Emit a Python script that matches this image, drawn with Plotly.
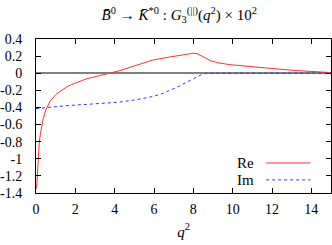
import plotly.graph_objects as go

q2_re = [0.03, 0.07, 0.12, 0.17, 0.23, 0.29, 0.37, 0.5, 0.71, 1.0, 1.56, 2.0, 2.58, 3.2, 3.76,
         4.27, 5.0, 5.96, 6.8, 7.66, 8.0, 8.2, 8.42, 8.65, 8.85, 9.3, 9.86, 10.7, 11.56, 12.4,
         13.25, 14.1, 15.0]
re_vals = [-1.35, -1.19, -0.95, -0.8, -0.7, -0.63, -0.53, -0.43, -0.33, -0.25, -0.16, -0.115,
           -0.065, -0.03, 0.0, 0.031, 0.085, 0.155, 0.19, 0.225, 0.233, 0.228, 0.206, 0.175,
           0.148, 0.12, 0.10, 0.08, 0.063, 0.047, 0.031, 0.018, 0.007]

q2_im = [0, 0.7, 1.5, 2.58, 3.4, 4.27, 5.1, 5.96, 6.4, 6.81, 7.25, 7.66, 7.9, 8.17, 8.4, 8.64,
         10, 12, 15]
im_vals = [-0.414, -0.395, -0.38, -0.364, -0.35, -0.337, -0.31, -0.271, -0.24, -0.2, -0.155,
           -0.105, -0.075, -0.038, -0.018, 0, 0, 0, 0]

x_ticks = [0, 2, 4, 6, 8, 10, 12, 14]
y_ticks = [0.4, 0.2, 0, -0.2, -0.4, -0.6, -0.8, -1, -1.2, -1.4]
y_labels = ["0.4", "0.2", "0", "-0.2", "-0.4", "-0.6", "-0.8", "-1", "-1.2", "-1.4"]

FONT = "Liberation Serif"

fig = go.Figure()
fig.add_trace(go.Scatter(x=q2_re, y=re_vals, mode="lines", name="Re",
                         line=dict(color="#ff3030", width=1), showlegend=False))
fig.add_trace(go.Scatter(x=q2_im, y=im_vals, mode="lines", name="Im",
                         line=dict(color="#3030ff", width=1, dash="dot"), showlegend=False))

axis_common = dict(showline=True, linecolor="black", linewidth=1, mirror="ticks",
                   ticks="inside", ticklen=5, tickcolor="black", showgrid=False,
                   automargin=False,
                   tickfont=dict(family=FONT, size=14, color="black"))

fig.update_xaxes(range=[0, 15], tickvals=x_ticks, zeroline=False, ticklabelstandoff=3,
                 title=dict(text="<i>q</i><sup>2</sup>", font=dict(family=FONT, size=15, color="black"),
                            standoff=10),
                 **axis_common)
fig.update_yaxes(range=[-1.4, 0.4], tickvals=y_ticks, ticktext=y_labels, ticklabelstandoff=10,
                 zeroline=True, zerolinecolor="#808080", zerolinewidth=1.5,
                 **axis_common)

# legend drawn manually (text left, sample right)
legend_items = [("Re", "#ff3030", "solid", 0.195), ("Im", "#3030ff", "dot", 0.085)]
for label, col, dash, yp in legend_items:
    fig.add_annotation(x=0.745, y=yp, xref="paper", yref="paper", text=label, showarrow=False,
                       xanchor="right", yanchor="middle",
                       font=dict(family=FONT, size=15, color="black"))
    fig.add_shape(type="line", xref="paper", yref="paper", x0=0.78, x1=0.93, y0=yp, y1=yp,
                  line=dict(color=col, width=1, dash=dash))

fig.update_layout(
    width=332, height=245,
    margin=dict(l=36, r=1, t=39, b=52),
    paper_bgcolor="white", plot_bgcolor="white",
    font=dict(family=FONT),
    title=dict(text="<i>B̄</i><sup>0</sup> → <i>K̄</i><sup>*0</sup> : <i>G</i><sub>3</sub><sup>(||)</sup>(<i>q</i><sup>2</sup>) × 10<sup>2</sup>",
               x=0.54, xanchor="center", y=0.94, yanchor="middle",
               font=dict(family=FONT, size=15, color="black")),
)

fig.write_html("out.html", config={"displayModeBar": False},
               post_script="document.body.style.margin='0';")
